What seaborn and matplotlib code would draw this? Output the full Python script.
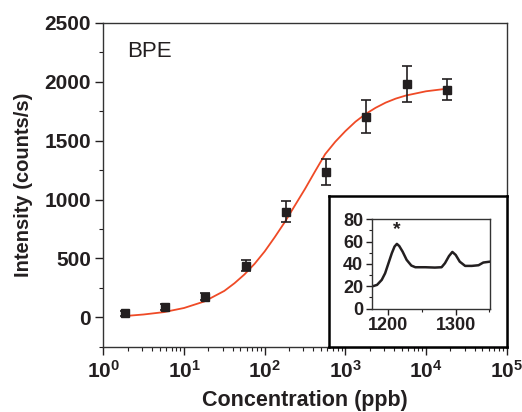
import numpy as np
import pandas as pd
import matplotlib
matplotlib.use('Agg')
import matplotlib.pyplot as plt
import matplotlib.ticker as mticker
import seaborn as sns

# measured points
conc = [1.86, 5.8, 18.2, 58, 182, 575, 1800, 5750, 18000]
intensity = [34, 85, 175, 439, 897, 1237, 1703, 1981, 1930]
err = [20, 25, 28, 48, 88, 110, 140, 150, 90]

# fitted curve
fit_conc = [1.86, 3.16, 5.62, 10, 17.8, 31.6, 42.2, 56.2, 75, 100, 133, 178, 237,
            316, 422, 562, 750, 1000, 1334, 1778, 2371, 3162, 4217, 5623,
            10000, 18200]
fit_int = [12, 25, 45, 80, 135, 225, 290, 365, 455, 560, 680, 810, 950,
           1090, 1240, 1385, 1490, 1580, 1660, 1725, 1778, 1822, 1856, 1882,
           1918, 1940]

# inset Raman spectrum
shift = [1175, 1183, 1190, 1195, 1200, 1205, 1209, 1212.5, 1216, 1221, 1227,
         1234, 1240, 1255, 1269, 1279, 1284, 1290, 1295, 1300, 1306, 1314,
         1324, 1334, 1341, 1351]
spec = [19.7, 21.2, 25.7, 31.6, 40.6, 49.6, 55.5, 57.9, 56, 51, 43.6,
        38.5, 37, 37, 36.7, 37, 40.6, 47, 50.7, 48, 42, 38.2,
        38.2, 38.8, 41.2, 42]

sns.set_theme(style='ticks')
plt.rcParams['font.family'] = ['Liberation Sans', 'DejaVu Sans']
plt.rcParams['mathtext.fontset'] = 'custom'
plt.rcParams['mathtext.rm'] = 'Liberation Sans:bold'
plt.rcParams['mathtext.bf'] = 'Liberation Sans:bold'
plt.rcParams['mathtext.it'] = 'Liberation Sans:bold'
plt.rcParams['mathtext.default'] = 'bf'

edge = '#231f20'
red = '#ef4a26'

fig = plt.figure(figsize=(5.22, 4.12), dpi=100)
ax = fig.add_axes([0.198, 0.158, 0.7727, 0.787])

fit_df = pd.DataFrame({'conc': fit_conc, 'intensity': fit_int})
sns.lineplot(data=fit_df, x='conc', y='intensity', color=red, lw=1.3,
             estimator=None, sort=False, ax=ax, zorder=2)
ax.errorbar(conc, intensity, yerr=err, fmt='s', color=edge, ms=5.5,
            capsize=3.6, elinewidth=1.2, capthick=1.2, zorder=3)

ax.set_xscale('log')
ax.set_xlim(1, 1e5)
ax.set_ylim(-250, 2500)
ax.set_yticks([0, 500, 1000, 1500, 2000, 2500])
ax.yaxis.set_minor_locator(mticker.MultipleLocator(250))
ax.xaxis.set_major_locator(mticker.LogLocator(base=10, numticks=10))
ax.xaxis.set_minor_locator(mticker.LogLocator(base=10, subs=np.arange(2, 10), numticks=20))
ax.xaxis.set_major_formatter(mticker.LogFormatterSciNotation())
ax.tick_params(which='major', direction='out', length=6, width=1, colors=edge,
               labelsize=15, pad=3)
ax.tick_params(which='minor', direction='out', length=3, width=0.8, colors=edge)
for lab in ax.get_yticklabels() + ax.get_xticklabels():
    lab.set_fontweight('bold')
for s in ax.spines.values():
    s.set_visible(True)
    s.set_linewidth(1.0)
    s.set_color('#333333')
ax.set_xlabel('Concentration (ppb)', fontsize=15.5, fontweight='bold', color=edge, labelpad=6)
ax.set_ylabel('Intensity (counts/s)', fontsize=14.5, fontweight='bold', color=edge, labelpad=8)
ax.text(0.06, 0.91, 'BPE', transform=ax.transAxes, fontsize=16, color=edge,
        va='center', ha='left')

# inset frame
frame = fig.add_axes([0.630, 0.158, 0.3407, 0.367])
frame.set_xticks([])
frame.set_yticks([])
frame.set_facecolor('white')
for s in frame.spines.values():
    s.set_visible(True)
    s.set_linewidth(1.8)
    s.set_color('black')

ins = fig.add_axes([0.712, 0.251, 0.2267, 0.217])
spec_df = pd.DataFrame({'shift': shift, 'spec': spec})
sns.lineplot(data=spec_df, x='shift', y='spec', color=edge, lw=1.8,
             estimator=None, sort=False, ax=ins)
ins.set_xlim(1175, 1351)
ins.set_ylim(0, 80)
ins.set_xticks([1200, 1300])
ins.xaxis.set_minor_locator(mticker.FixedLocator([1250, 1350]))
ins.set_yticks([0, 20, 40, 60, 80])
ins.yaxis.set_minor_locator(mticker.MultipleLocator(10))
ins.tick_params(which='major', direction='out', length=4, width=1, colors=edge,
                labelsize=13, pad=2)
ins.tick_params(which='minor', direction='out', length=2.5, width=0.8, colors=edge)
for lab in ins.get_xticklabels() + ins.get_yticklabels():
    lab.set_fontweight('bold')
for s in ins.spines.values():
    s.set_visible(True)
    s.set_linewidth(1.0)
    s.set_color('#333333')
ins.set_xlabel('')
ins.set_ylabel('')
ins.text(1212, 63, '*', fontsize=14, fontweight='bold', color=edge,
         ha='center', va='bottom')

fig.savefig('out.png', dpi=100)
